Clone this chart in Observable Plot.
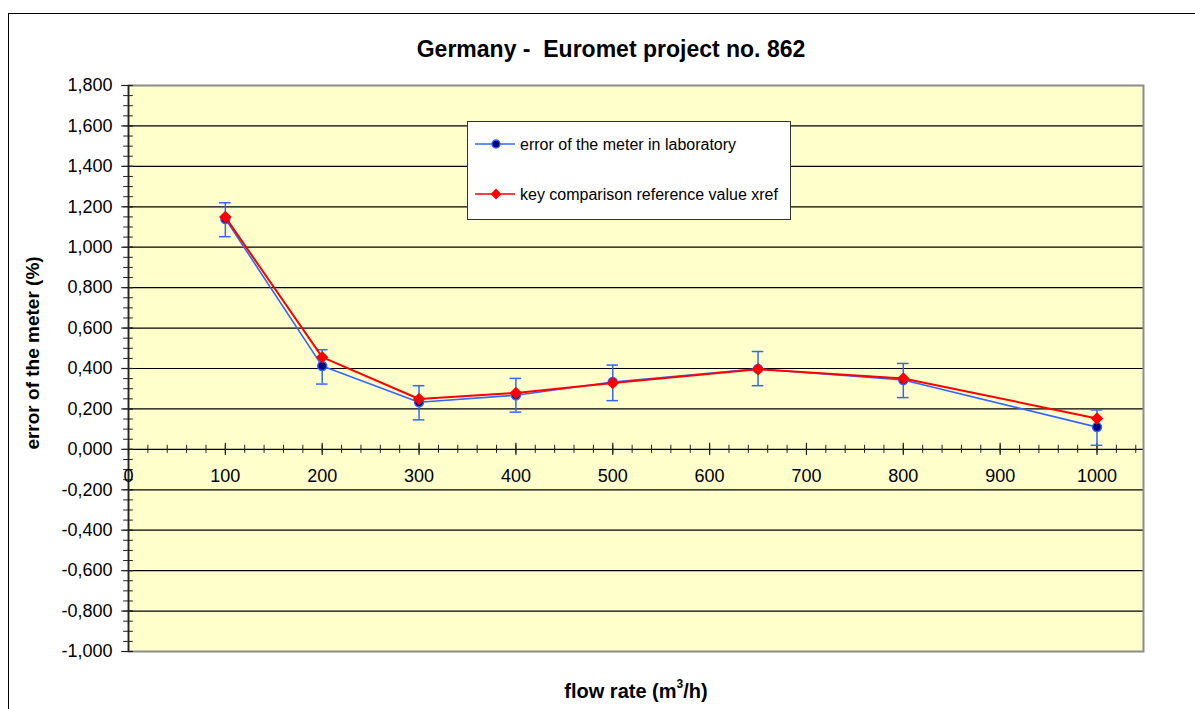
<!DOCTYPE html>
<html><head><meta charset="utf-8">
<script src="https://cdn.jsdelivr.net/npm/d3@7"></script>
<script src="https://cdn.jsdelivr.net/npm/@observablehq/plot@0.6"></script>
<style>
html,body{margin:0;padding:0;background:#fff;}
#wrap{position:relative;width:1195px;height:709px;overflow:hidden;font-family:Arial,"Liberation Sans",Helvetica,sans-serif;color:#000;}
#border{position:absolute;left:8px;top:13px;width:1300px;height:900px;border-left:1.5px solid #000;border-top:1.5px solid #000;box-sizing:border-box;}
#chart{position:absolute;left:0;top:0;}
.title{position:absolute;left:611px;top:38px;transform:translateX(-50%);font-weight:bold;font-size:23px;line-height:23px;white-space:nowrap;}
.xlabel{position:absolute;left:636px;top:681px;transform:translateX(-50%);font-weight:bold;font-size:20px;line-height:20px;white-space:nowrap;}
.xlabel sup{font-size:12px;line-height:0;position:relative;top:-2px;}
.ylabel{position:absolute;left:32px;top:353px;transform:translate(-50%,-50%) rotate(-90deg);font-weight:bold;font-size:19px;line-height:19px;white-space:nowrap;}
#legend{position:absolute;left:467px;top:121px;width:324px;height:99px;background:#fff;border:1px solid #333;box-sizing:border-box;}
</style>
</head><body>
<div id="wrap">
  <div id="border"></div>
  <div id="chart"></div>
  <div class="title">Germany -&nbsp; Euromet project no. 862</div>
  <div class="ylabel">error of the meter (%)</div>
  <div class="xlabel">flow rate (m<sup>3</sup>/h)</div>
  <div id="legend"></div>
</div>
<script>
// ---- data ----
const flowRate = [100, 200, 300, 400, 500, 650, 800, 1000];
const labError = [1.140, 0.412, 0.233, 0.268, 0.333, 0.398, 0.343, 0.110];
const refValue = [1.149, 0.456, 0.249, 0.279, 0.328, 0.396, 0.351, 0.153];
const errLower = [1.052, 0.323, 0.146, 0.184, 0.241, 0.315, 0.256, 0.020];
const errUpper = [1.220, 0.493, 0.315, 0.351, 0.417, 0.484, 0.425, 0.195];
const yTickValues = [-1.0, -0.8, -0.6, -0.4, -0.2, 0, 0.2, 0.4, 0.6, 0.8, 1.0, 1.2, 1.4, 1.6, 1.8];
const xTickValues = [0, 100, 200, 300, 400, 500, 600, 700, 800, 900, 1000];
const xTickLabels = ["0", "100", "200", "300", "400", "500", "600", "700", "800", "900", "1000"];
const legendLabels = ["error of the meter in laboratory", "key comparison reference value xref"];

const blue = "#3366ff";
const navy = "#000080";
const red = "#ff0000";

// square rotated 45° (equal diagonals), like Excel's diamond marker
const squareDiamond = {
  draw(context, size) {
    const h = Math.sqrt(size / 2);
    context.moveTo(0, -h);
    context.lineTo(h, 0);
    context.lineTo(0, h);
    context.lineTo(-h, 0);
    context.closePath();
  }
};

const locale = d3.formatLocale({decimal: ",", thousands: ".", grouping: [3], currency: ["", ""], minus: "-"});
const fmt = locale.format(".3f");

const lab = flowRate.map((x, i) => ({x, y: labError[i], lo: errLower[i], hi: errUpper[i]}));
const ref = flowRate.map((x, i) => ({x, y: refValue[i]}));
const yMinor = d3.range(-1, 1.8001, 0.05);
const xMinor = d3.range(0, 1041, 20);
const xTicks = xTickValues.map((v, i) => ({v, label: xTickLabels[i]}));

const chart = Plot.plot({
  width: 1195,
  height: 709,
  marginLeft: 128,
  marginRight: 52,
  marginTop: 85,
  marginBottom: 58,
  x: {domain: [0, 1048], axis: null},
  y: {domain: [-1, 1.8], axis: null},
  style: {fontFamily: "Arial, 'Liberation Sans', Helvetica, sans-serif", fontSize: "18px", background: "transparent", overflow: "visible", color: "#000"},
  marks: [
    Plot.frame({fill: "#ffffcc", stroke: "none"}),
    Plot.ruleY(yTickValues.filter(v => v > -1 && v < 1.8), {stroke: "#000", strokeWidth: 1.2}),
    Plot.frame({stroke: "#8c8c8c", strokeWidth: 2}),
    Plot.ruleX([0], {stroke: "#222", strokeWidth: 1.5}),
    Plot.ruleY(yMinor, {y: d => d, x1: () => -5, x2: () => 5, stroke: "#222", strokeWidth: 1}),
    Plot.ruleY(yTickValues, {y: d => d, x1: () => -7, x2: () => 5, stroke: "#222", strokeWidth: 1.2}),
    Plot.ruleX(xMinor, {x: d => d, y1: () => -0.02, y2: () => 0.02, stroke: "#222", strokeWidth: 1}),
    Plot.ruleX(xTickValues, {x: d => d, y1: () => -0.03, y2: () => 0.03, stroke: "#222", strokeWidth: 1.2}),
    Plot.axisY({ticks: yTickValues, tickSize: 0, tickPadding: 16, tickFormat: fmt, fontSize: 18}),
    Plot.text(xTicks, {x: "v", y: () => 0, text: "label", dy: 27, fontSize: 18, fill: "#000"}),
    Plot.ruleX(lab, {x: "x", y1: "lo", y2: "hi", stroke: blue, strokeWidth: 1.5}),
    Plot.ruleY(lab, {y: "hi", x1: d => d.x - 6, x2: d => d.x + 6, stroke: blue, strokeWidth: 1.5}),
    Plot.ruleY(lab, {y: "lo", x1: d => d.x - 6, x2: d => d.x + 6, stroke: blue, strokeWidth: 1.5}),
    Plot.line(lab, {x: "x", y: "y", stroke: blue, strokeWidth: 1.6}),
    Plot.dot(lab, {x: "x", y: "y", r: 4.5, fill: navy, stroke: blue, strokeWidth: 1.5}),
    Plot.line(ref, {x: "x", y: "y", stroke: red, strokeWidth: 2}),
    Plot.dot(ref, {x: "x", y: "y", symbol: squareDiamond, r: 5, fill: red, stroke: "none"})
  ]
});
document.getElementById("chart").appendChild(chart);

// ---- legend ----
const lg = d3.select("#legend").append("svg").attr("width", 322).attr("height", 97)
  .style("position", "absolute").style("left", "0").style("top", "0");
const items = [
  {label: legendLabels[0], color: blue, marker: "circle"},
  {label: legendLabels[1], color: red, marker: "diamond"}
];
items.forEach((it, i) => {
  const cy = 22 + i * 50;
  lg.append("line").attr("x1", 7).attr("x2", 47).attr("y1", cy).attr("y2", cy)
    .attr("stroke", it.color).attr("stroke-width", 1.6);
  if (it.marker === "circle") {
    lg.append("circle").attr("cx", 28).attr("cy", cy).attr("r", 4)
      .attr("fill", navy).attr("stroke", blue).attr("stroke-width", 1.3);
  } else {
    lg.append("path").attr("d", d3.symbol(squareDiamond, 60)())
      .attr("transform", `translate(28,${cy})`).attr("fill", red);
  }
  lg.append("text").attr("x", 52).attr("y", cy + 5.5)
    .attr("font-family", "Arial, 'Liberation Sans', Helvetica, sans-serif")
    .attr("font-size", 16).attr("fill", "#000").text(it.label);
});
</script>
</body></html>
